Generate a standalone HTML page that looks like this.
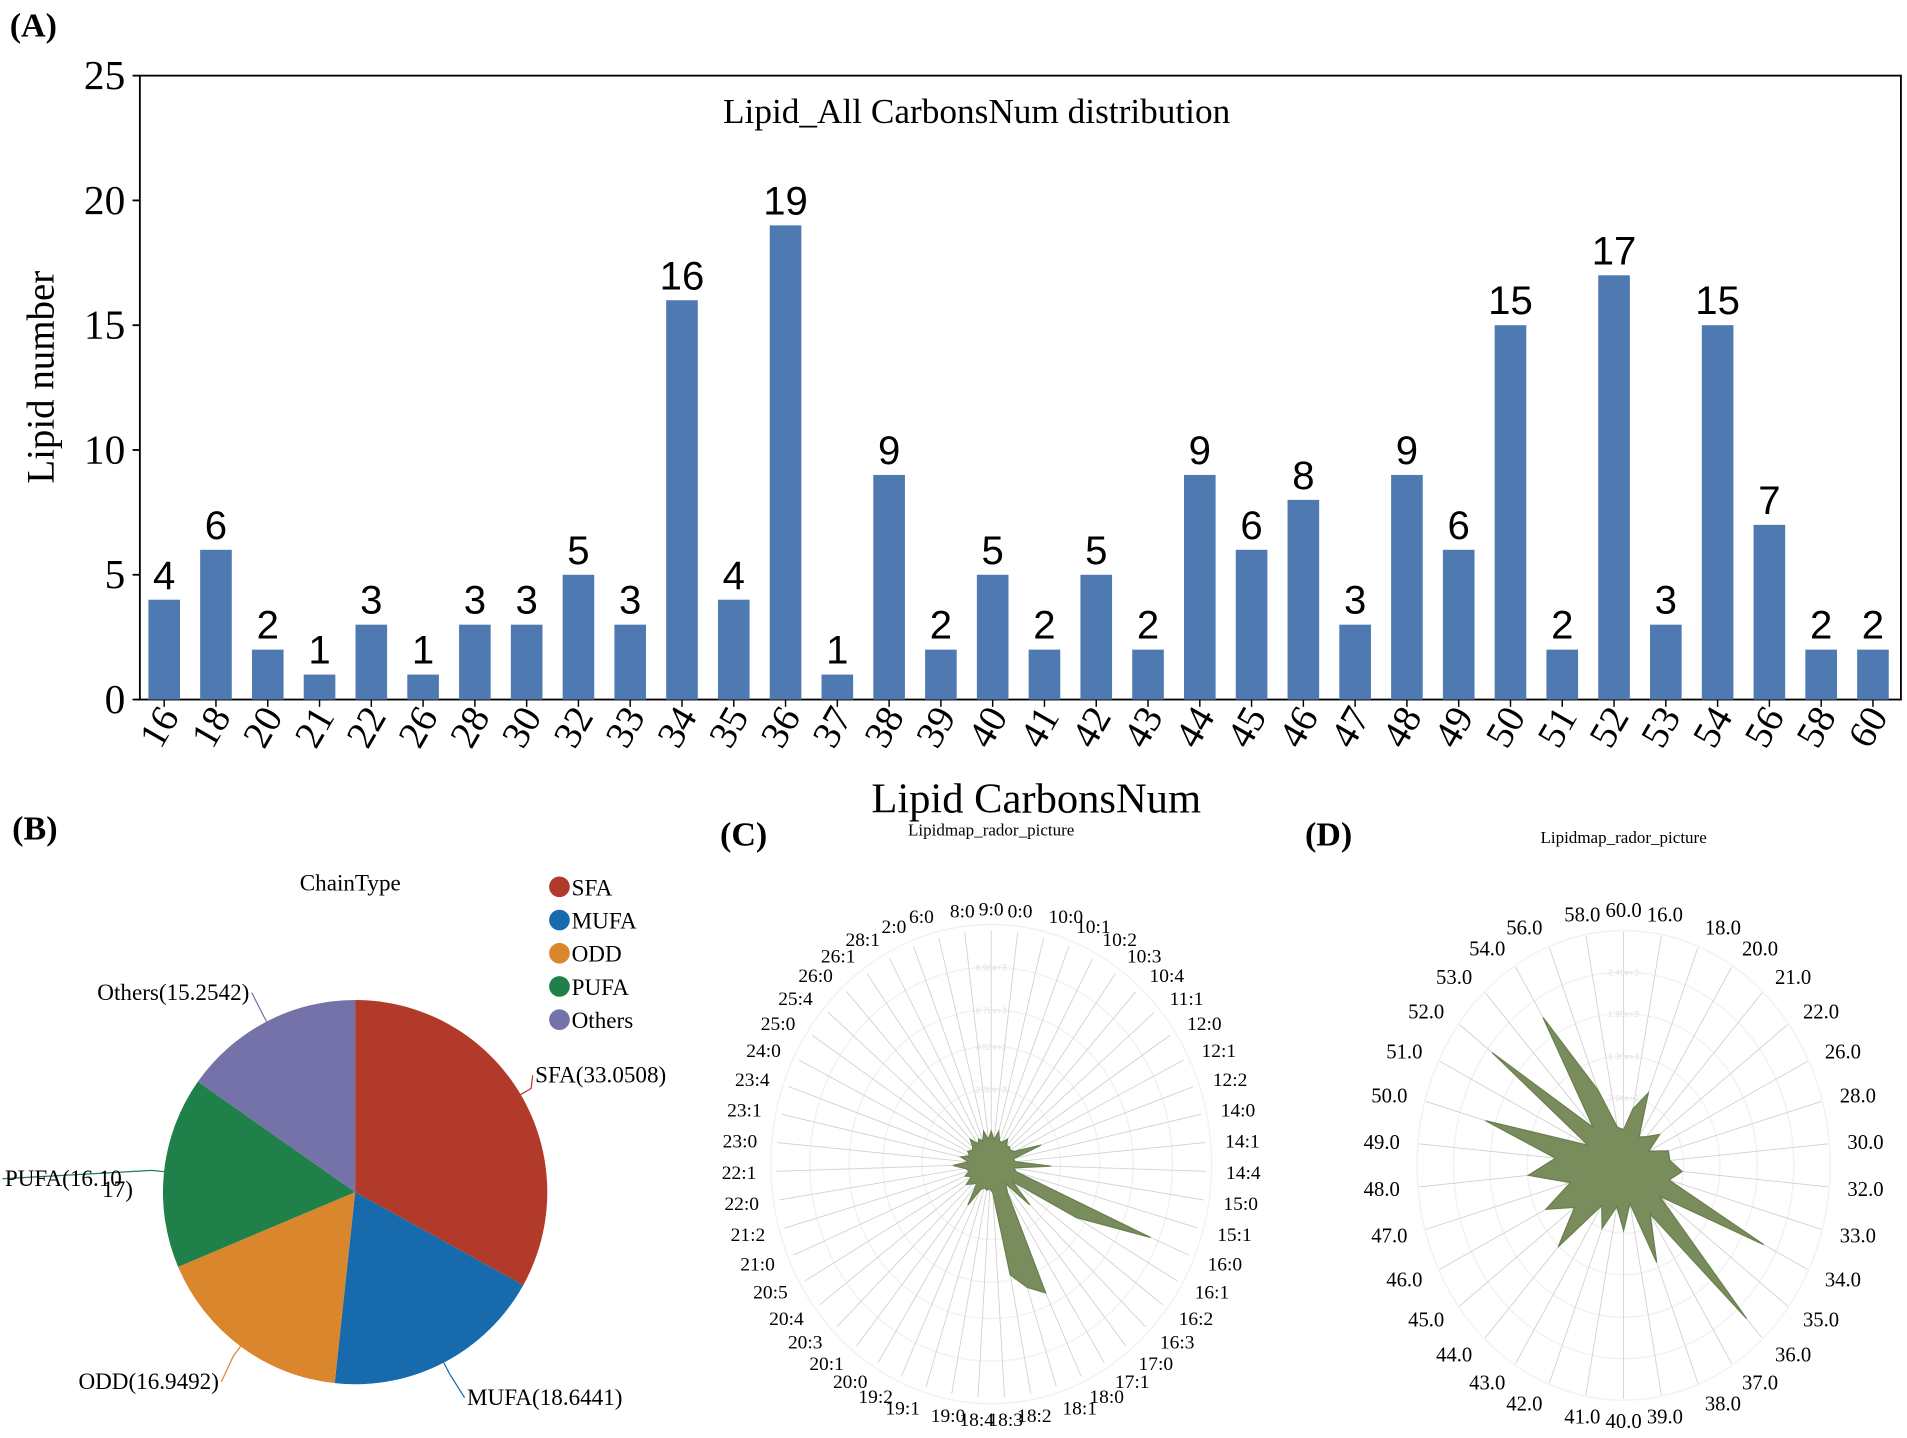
<!DOCTYPE html>
<html><head><meta charset="utf-8"><style>
html,body{margin:0;padding:0;background:#fff;}
svg{display:block;}
text{font-family:"Liberation Serif",serif;}
</style></head><body>
<svg id="fig" width="1907" height="1438" viewBox="0 0 1568 1182" xmlns="http://www.w3.org/2000/svg">
<rect width="1568" height="1182" fill="#fff"/>
<g id="barA"></g>
<g id="pieB"></g>
<g id="radC"></g>
<g id="radD"></g>
<text x="8" y="30" font-size="28" font-weight="bold">(A)</text>
<text x="10" y="690" font-size="28" font-weight="bold">(B)</text>
<text x="592" y="695" font-size="28" font-weight="bold">(C)</text>
<text x="1073" y="695" font-size="28" font-weight="bold">(D)</text>
</svg>
<script>
// ---- Panel A data ----
const barCategories = ["16","18","20","21","22","26","28","30","32","33","34","35","36","37","38","39","40","41","42","43","44","45","46","47","48","49","50","51","52","53","54","56","58","60"];
const barValues = [4,6,2,1,3,1,3,3,5,3,16,4,19,1,9,2,5,2,5,2,9,6,8,3,9,6,15,2,17,3,15,7,2,2];
const yTicks = [0,5,10,15,20,25];
// ---- Panel B data ----
const pieLabels = ["SFA","MUFA","ODD","PUFA","Others"];
const pieValues = [33.0508,18.6441,16.9492,16.1017,15.2542];
// ---- Panel C data ----
const radarCCategories = ["9:0","0:0","10:0","10:1","10:2","10:3","10:4","11:1","12:0","12:1","12:2","14:0","14:1","14:4","15:0","15:1","16:0","16:1","16:2","16:3","17:0","17:1","18:0","18:1","18:2","18:3","18:4","19:0","19:1","19:2","20:0","20:1","20:3","20:4","20:5","21:0","21:2","22:0","22:1","23:0","23:1","23:4","24:0","25:0","25:4","26:0","26:1","28:1","2:0","6:0","8:0"];
const radarCValues = [1500,1130,1540,1130,1130,1400,1130,1200,1130,1300,2620,1130,1200,2980,1130,1300,8570,4870,1300,2670,1130,1540,6460,5900,5130,1300,1130,1200,1130,1300,2200,1130,1300,1540,1130,1400,1130,1300,1900,1130,1540,1130,1300,1130,1200,1540,1130,1300,1130,1540,1130];
const radarCRings = ["2.30e+3","4.53e+3","6.76e+3","8.98e+3"];
// ---- Panel D data ----
const radarDCategories = ["60.0","16.0","18.0","20.0","21.0","22.0","26.0","28.0","30.0","32.0","33.0","34.0","35.0","36.0","37.0","38.0","39.0","40.0","41.0","42.0","43.0","44.0","45.0","46.0","47.0","48.0","49.0","50.0","51.0","52.0","53.0","54.0","56.0","58.0"];
const radarDValues = [460,740,1000,430,500,660,410,680,680,860,690,2290,660,2670,740,1340,500,840,540,870,610,1420,900,1270,810,1400,1000,2100,580,2410,660,2240,1040,500];
const radarDRings = ["7.04e+2","1.30e+3","1.90e+3","2.49e+3"];

const NS="http://www.w3.org/2000/svg";
function mk(parent,tag,attrs,txt){const e=document.createElementNS(NS,tag);for(const k in attrs)e.setAttribute(k,attrs[k]);if(txt!==undefined)e.textContent=txt;parent.appendChild(e);return e;}

// ---------- Bar chart ----------
(function(){
 const g=document.getElementById('barA');
 const L=115,R=1563,T=62,B=575,yMax=25;
 const y=v=>B-(v/yMax)*(B-T);
 const x0=135,step=(1540-135)/(barCategories.length-1);
 const x=i=>x0+i*step;
 const frame=mk(g,'rect',{x:L,y:T,width:R-L,height:B-T,fill:'none',stroke:'#000','stroke-width':1.5});
 
 
 const t=mk(g,'text',{x:803,y:101,'font-size':29,'text-anchor':'middle'},'Lipid_All CarbonsNum distribution');
 
 
 yTicks.forEach(v=>{
  mk(g,'line',{x1:L-6,x2:L,y1:y(v),y2:y(v),stroke:'#000','stroke-width':1.5});
  const tl=mk(g,'text',{x:L-12,y:y(v)+11,'font-size':34,'text-anchor':'end'},String(v));
  
  
 });
 const yt=mk(g,'text',{x:0,y:0,'font-size':32,'text-anchor':'middle',transform:'translate(44,310) rotate(-90)'},'Lipid number');
 
 
 const xt=mk(g,'text',{x:852,y:668,'font-size':35,'text-anchor':'middle'},'Lipid CarbonsNum');
 
 
 barCategories.forEach((c,i)=>{
  const v=barValues[i],w=26;
  const b=mk(g,'rect',{x:x(i)-w/2,y:y(v),width:w,height:B-y(v),fill:'#4e7ab1'});
  
  
  const vl=mk(g,'text',{x:x(i),y:y(v)-9,'font-size':33,'text-anchor':'middle',style:'font-family:"Liberation Sans",sans-serif'},String(v));
  
  
  mk(g,'line',{x1:x(i),x2:x(i),y1:B,y2:B+6,stroke:'#000','stroke-width':1.2});
  const xl=mk(g,'text',{x:0,y:0,'font-size':32,'text-anchor':'end',transform:`translate(${x(i)+13},${B+14}) rotate(-60)`},c);
  
  
 });
})();

// ---------- Pie chart ----------
(function(){
 const g=document.getElementById('pieB');
 const cx=292,cy=980,r=158;
 const colors=["#b23a2b","#176aab","#d9862c","#1f8049","#7572aa"];
 const labelPos=[[440,890,'start'],[384,1155,'start'],[180,1142,'end'],[4,975,'start'],[205,822,'end']];
 const tot=pieValues.reduce((a,b)=>a+b,0);
 let a0=-Math.PI/2;
 const t=mk(g,'text',{x:288,y:732,'font-size':19,'text-anchor':'middle'},'ChainType');
 
 
 pieValues.forEach((v,i)=>{
  const a1=a0+v/tot*2*Math.PI;
  const large=(a1-a0)>Math.PI?1:0;
  const p=`M${cx},${cy} L${cx+r*Math.cos(a0)},${cy+r*Math.sin(a0)} A${r},${r} 0 ${large} 1 ${cx+r*Math.cos(a1)},${cy+r*Math.sin(a1)} Z`;
  const s=mk(g,'path',{d:p,fill:colors[i]});
  
  
  const am=(a0+a1)/2;
  const ex=cx+r*Math.cos(am),ey=cy+r*Math.sin(am);
  const lp=labelPos[i];
  const lx=lp[2]==='start'?lp[0]-2:lp[0]+2;
  mk(g,'polyline',{points:`${ex},${ey} ${ex+10*Math.cos(am)},${ey+10*Math.sin(am)} ${lx},${lp[1]-6}`,fill:'none',stroke:colors[i],'stroke-width':1});
  const txt=i===3?'PUFA(16.10':pieLabels[i]+'('+v+')';
  const l=mk(g,'text',{x:lp[0],y:lp[1],'font-size':19,'text-anchor':lp[2]},txt);
  
  
  if(i===3){mk(g,'text',{x:84,y:984,'font-size':19},'17)');}
  const ly=729+i*27.3;
  const lc=mk(g,'circle',{cx:460,cy:ly,r:8.5,fill:colors[i]});
  
  
  const lt=mk(g,'text',{x:470,y:ly+7,'font-size':19},pieLabels[i]);
  
  
  a0=a1;
 });
})();

// ---------- Radar ----------
function radar(gid,cats,vals,rings,cx,cy,sx,spokeR,labelR,maxV,ringR,fs,titleY){
 const g=document.getElementById(gid);
 const rr=v=>v/maxV*ringR[ringR.length-1];
 const t=mk(g,'text',{x:cx,y:titleY,'font-size':14,'text-anchor':'middle'},'Lipidmap_rador_picture');
 
 
 [...ringR,ringR[ringR.length-1]+(ringR[1]-ringR[0])].forEach(rad=>{
  mk(g,'ellipse',{cx,cy,rx:rad*sx,ry:rad,fill:'none',stroke:'#f2f2f2','stroke-width':1.2});
 });
 const n=cats.length;
 const ang=i=>i*2*Math.PI/n;
 cats.forEach((c,i)=>{
  const a=ang(i),dx=Math.sin(a),dy=-Math.cos(a);
  mk(g,'line',{x1:cx,y1:cy,x2:cx+spokeR*dx*sx,y2:cy+spokeR*dy,stroke:'#cfcfcf','stroke-width':0.7});
  const anchor=Math.abs(dx)<0.2?'middle':(dx>0?'start':'end');
  const l=mk(g,'text',{x:cx+labelR*dx*sx,y:cy+labelR*dy+fs*0.35,'font-size':fs,'text-anchor':anchor},c);
  
  
 });
 rings.forEach((s,k)=>{
  mk(g,'text',{x:cx,y:cy-ringR[k]+3,'font-size':7,fill:'#e0e0e0','text-anchor':'middle',style:'font-family:"Liberation Sans",sans-serif'},s);
 });
 const pts=vals.map((v,i)=>{const a=ang(i);return (cx+rr(v)*Math.sin(a)*sx).toFixed(1)+','+(cy-rr(v)*Math.cos(a)).toFixed(1);}).join(' ');
 const poly=mk(g,'polygon',{points:pts,fill:'#788d5b',stroke:'#6a7f4e','stroke-width':1});
 
 
}
radar('radC',radarCCategories,radarCValues,radarCRings,815,957,0.92,192,210,8980,[62,97,127,162],16,687);
radar('radD',radarDCategories,radarDValues,radarDRings,1335,958,0.88,192,210,2490,[56,90,125,159],17,693);
</script>
</body></html>
